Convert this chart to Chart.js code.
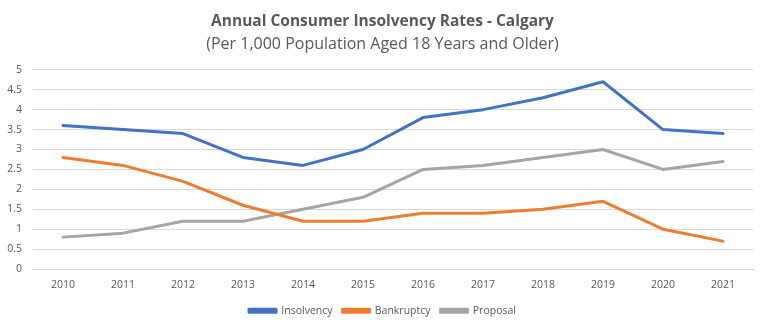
<!DOCTYPE html>
<html>
<head>
<meta charset="utf-8">
<script src="https://cdn.jsdelivr.net/npm/chart.js@4"></script>
<style>
  html, body { margin: 0; padding: 0; background: #fff; }
  #wrap { width: 765px; height: 331px; }
</style>
</head>
<body>
<div id="wrap"><canvas id="c" width="765" height="331"></canvas></div>
<script>
const years = ['2010','2011','2012','2013','2014','2015','2016','2017','2018','2019','2020','2021'];
const insolvency = [3.6, 3.5, 3.4, 2.8, 2.6, 3.0, 3.8, 4.0, 4.3, 4.7, 3.5, 3.4];
const bankruptcy = [2.8, 2.6, 2.2, 1.6, 1.2, 1.2, 1.4, 1.4, 1.5, 1.7, 1.0, 0.7];
const proposal   = [0.8, 0.9, 1.2, 1.2, 1.5, 1.8, 2.5, 2.6, 2.8, 3.0, 2.5, 2.7];
const yTicks = [0, 0.5, 1, 1.5, 2, 2.5, 3, 3.5, 4, 4.5, 5];

const FONT = "'Open Sans', sans-serif";
const TEXT = '#595959';
const GRID = '#D9D9D9';

function series(label, data, color) {
  return {
    label, data,
    borderColor: color,
    backgroundColor: color,
    borderWidth: 3,
    borderJoinStyle: 'round',
    borderCapStyle: 'round',
    pointRadius: 0,
    tension: 0,
    fill: false
  };
}

new Chart(document.getElementById('c'), {
  type: 'line',
  data: {
    labels: years,
    datasets: [
      series('Insolvency', insolvency, '#4472C4'),
      series('Bankruptcy', bankruptcy, '#ED7D31'),
      series('Proposal', proposal, '#A5A5A5')
    ]
  },
  options: {
    responsive: false,
    animation: false,
    layout: { padding: { left: 0, right: 0, top: 6, bottom: 5 } },
    plugins: {
      title: {
        display: true,
        text: 'Annual Consumer Insolvency Rates - Calgary',
        color: TEXT,
        font: { family: FONT, size: 15.5, weight: 'bold' },
        padding: { top: 6, bottom: 1 }
      },
      subtitle: {
        display: true,
        text: '(Per 1,000 Population Aged 18 Years and Older)',
        color: TEXT,
        font: { family: FONT, size: 16 },
        padding: { top: 3, bottom: 16 }
      },
      legend: {
        position: 'bottom',
        labels: {
          color: TEXT,
          font: { family: FONT, size: 10.5 },
          boxWidth: 27,
          boxHeight: 3,
          padding: 10
        }
      },
      tooltip: { enabled: false }
    },
    scales: {
      x: {
        offset: true,
        grid: { display: false, drawTicks: false },
        border: { display: true, color: GRID },
        ticks: { color: TEXT, font: { family: FONT, size: 10.5 }, padding: 9.5, maxRotation: 0 },
        afterFit: axis => { axis.height = 26.5; }
      },
      y: {
        min: 0, max: 5,
        afterBuildTicks: axis => { axis.ticks = yTicks.map(v => ({ value: v })); },
        afterFit: axis => { axis.width = 33; },
        grid: { color: GRID, drawTicks: false },
        border: { display: false },
        ticks: {
          color: TEXT,
          font: { family: FONT, size: 10.5 },
          padding: 11,
          callback: v => String(v)
        }
      },
      // empty right-hand margin axis so the plot ends short of the canvas edge
      yRight: {
        position: 'right',
        min: 0, max: 5,
        grid: { display: false, drawTicks: false },
        border: { display: false },
        ticks: { display: false },
        afterFit: axis => { axis.width = 12; }
      }
    }
  }
});
</script>
</body>
</html>
